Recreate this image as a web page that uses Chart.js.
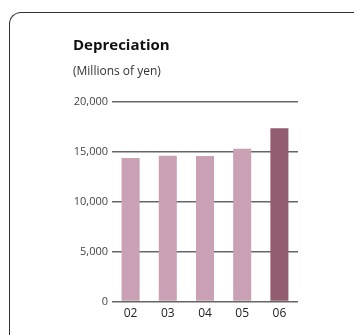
<!DOCTYPE html>
<html>
<head>
<meta charset="utf-8">
<script src="https://cdn.jsdelivr.net/npm/chart.js@4"></script>
<style>
  html,body{margin:0;padding:0;background:#fff;}
  #wrap{position:relative;width:354px;height:335px;overflow:hidden;}
  #frame{position:absolute;left:9px;top:12px;width:360px;height:340px;border-top:1.5px solid #333;border-left:1.5px solid #333;border-top-left-radius:12px;}
  canvas{position:absolute;left:0;top:0;}
</style>
</head>
<body>
<div id="wrap">
  <div id="frame"></div>
  <canvas id="c" width="354" height="335"></canvas>
</div>
<script>
/* Depreciation, millions of yen */
const years = ["02","03","04","05","06"];
const depreciation = [14350, 14560, 14550, 15270, 17330];
const yTicks = [0, 5000, 10000, 15000, 20000];
const barColors = ["#c9a0b4","#c9a0b4","#c9a0b4","#c9a0b4","#935d71"];

const font = "'Open Sans', 'Noto Sans', sans-serif";

new Chart(document.getElementById("c").getContext("2d"), {
  type: "bar",
  data: {
    labels: years,
    datasets: [{ data: depreciation, backgroundColor: barColors, borderWidth: 0, barPercentage: 0.97, categoryPercentage: 0.5 }]
  },
  options: {
    responsive: false,
    animation: false,
    layout: { padding: { left: 73, right: 56, top: 37, bottom: 9 } },
    plugins: {
      legend: { display: false },
      tooltip: { enabled: false },
      title: {
        display: true, text: "Depreciation", align: "start", color: "#111",
        font: { family: font, size: 15, weight: "bold" },
        padding: { top: 0, bottom: 9 }
      },
      subtitle: {
        display: true, text: "(Millions of yen)", align: "start", color: "#333",
        font: { family: font, size: 12 },
        padding: { top: 0, bottom: 23 }
      }
    },
    scales: {
      x: {
        grid: { display: false, drawTicks: false },
        border: { display: false },
        ticks: { color: "#222", font: { family: font, size: 12 }, padding: 5 }
      },
      y: {
        min: 0, max: 20000,
        afterBuildTicks: axis => { axis.ticks = yTicks.map(v => ({ value: v })); },
        afterFit: axis => { axis.width = 39; },
        grid: { color: "#666", lineWidth: 1.5, drawTicks: false },
        border: { display: false },
        ticks: {
          color: "#444", font: { family: font, size: 11 }, padding: 4,
          callback: v => v.toLocaleString("en-US")
        }
      }
    }
  }
});
</script>
</body>
</html>
